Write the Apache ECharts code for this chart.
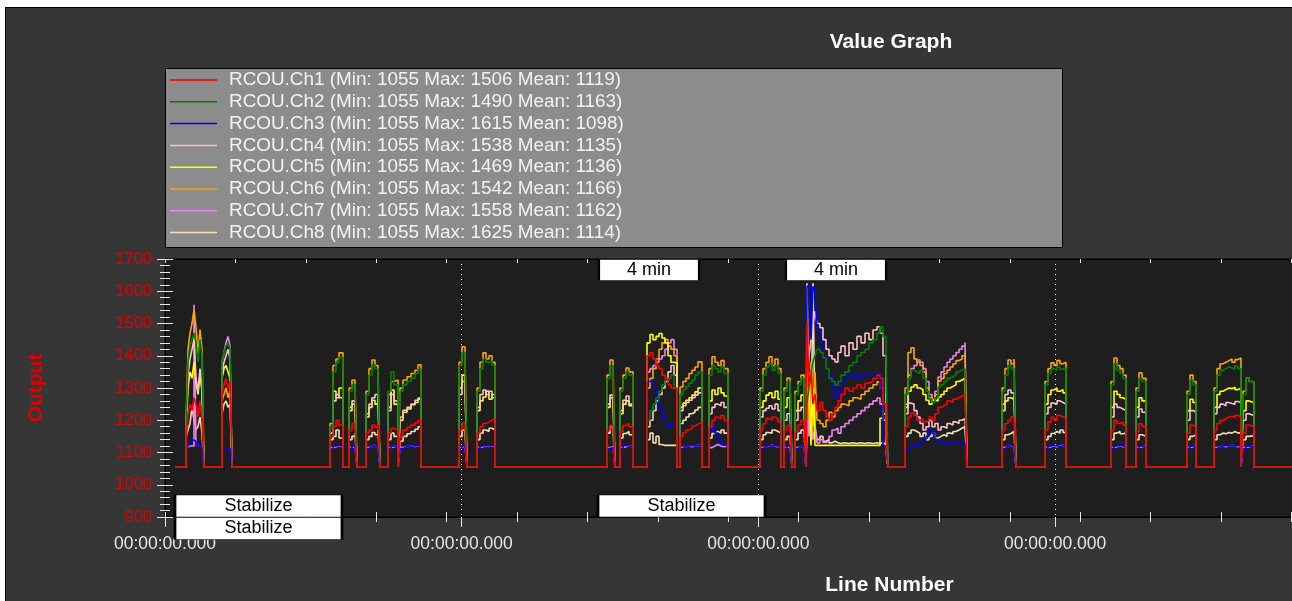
<!DOCTYPE html>
<html><head><meta charset="utf-8">
<script src="https://cdn.jsdelivr.net/npm/echarts@6/dist/echarts.min.js"></script>
<style>
html,body{margin:0;padding:0;background:#fff;width:1292px;height:601px;overflow:hidden}
#c{position:absolute;left:5px;top:7px;width:1287px;height:594px;border-left:1px solid #000;border-top:1px solid #000;box-sizing:border-box}
</style></head><body><div id="c"></div>
<script>
// ---------------- DATA ----------------
const seriesNames = ['RCOU.Ch1','RCOU.Ch2','RCOU.Ch3','RCOU.Ch4','RCOU.Ch5','RCOU.Ch6','RCOU.Ch7','RCOU.Ch8'];
const statMin  = [1055,1055,1055,1055,1055,1055,1055,1055];
const statMax  = [1506,1490,1615,1538,1469,1542,1558,1625];
const statMean = [1119,1163,1098,1135,1136,1166,1162,1114];
const timeTickLabels = ['00:00:00.000','00:00:00.000','00:00:00.000','00:00:00.000','00:00:00.000'];
const annotLineNo = [100, 100, 4330, 4340, 6210];
const annotText = ['Stabilize','Stabilize','Stabilize','4 min','4 min'];

const lineNo = [100,
 210,230,250,270,290,310,330,350,370,390,
 570,590,610,630,650,670,
 1650,1680,1710,1740,1780,
 1840,1870,1900,1920,
 2010,2040,2070,2100,2130,2150,
 2230,2260,2290,2330,
 2350,2380,2420,2460,2500,2530,2560,
 2940,2970,3000,3020,
 3120,3150,3180,3210,3240,3270,3300,
 4420,4450,4480,4500,
 4550,4580,4610,4640,4680,
 4820,4850,4880,4910,4940,4970,5000,5030,5060,5090,5120,
 5150,5180,5210,5240,5270,5300,5330,5370,
 5440,5470,5500,5530,5560,5590,5630,
 5950,5980,6010,6040,6070,6100,6130,6160,
 6190,6220,6250,6270,
 6300,6330,6360,6390,6410,
 6420,6440,6460,6480,6500,6520,6550,6580,6610,6640,6670,6700,6730,6760,6800,6840,6880,6920,6960,7000,7040,7080,7120,7150,7180,7210,7230,
 7400,7430,7460,7490,7520,7550,7580,7610,7640,7670,7700,7730,7760,7790,7820,7850,7880,7910,7940,7970,8000,8020,
 8370,8400,8430,8460,8490,8510,
 8800,8830,8860,8890,8920,8950,8980,9010,
 9460,9490,9520,9550,9580,9610,
 9710,9740,9770,9810,
 10220,10250,10280,10310,
 10490,10520,10550,10580,10610,10640,10670,10700,10730,10760,
 10780,10810,10840,10890,
 11868];

const ch1 = [1055,
 1140,1220,1250,1230,1270,1250,1210,1260,1200,1055,
 1280,1310,1330,1300,1320,1055,
 1150,1180,1200,1185,1055,
 1170,1190,1180,1055,
 1160,1170,1185,1178,1190,1055,
 1160,1175,1169,1055,
 1150,1169,1178,1185,1192,1200,1055,
 1170,1190,1178,1055,
 1160,1180,1190,1195,1200,1205,1055,
 1170,1184,1180,1055,
 1165,1184,1190,1180,1055,
 1400,1409,1390,1370,1360,1340,1330,1310,1300,1295,1055,
 1150,1162,1170,1175,1182,1188,1194,1055,
 1180,1200,1210,1205,1215,1200,1055,
 1170,1190,1206,1200,1210,1205,1195,1055,
 1170,1184,1180,1055,
 1165,1185,1200,1195,1055,
 1506,1300,1350,1250,1280,1230,1256,1230,1210,1200,1220,1240,1260,1280,1300,1290,1300,1310,1300,1315,1320,1330,1340,1330,1250,1150,1055,
 1180,1210,1222,1215,1200,1205,1195,1200,1210,1200,1220,1240,1245,1250,1260,1255,1265,1270,1275,1280,1284,1055,
 1170,1190,1200,1210,1205,1055,
 1170,1195,1209,1200,1215,1210,1205,1055,
 1170,1200,1190,1195,1185,1055,
 1165,1190,1180,1055,
 1160,1185,1180,1055,
 1170,1190,1200,1205,1210,1212,1208,1215,1210,1055,
 1160,1185,1180,1055,
 1055];

const ch2 = [1055,
 1180,1380,1430,1450,1470,1440,1380,1450,1400,1055,
 1380,1410,1430,1440,1420,1055,
 1180,1350,1380,1395,1055,
 1290,1310,1300,1055,
 1280,1340,1372,1360,1340,1055,
 1290,1350,1310,1055,
 1290,1310,1320,1330,1345,1358,1055,
 1370,1410,1390,1055,
 1290,1360,1390,1380,1385,1370,1055,
 1330,1370,1360,1055,
 1290,1330,1350,1340,1055,
 1200,1230,1250,1270,1290,1310,1325,1330,1340,1300,1055,
 1280,1295,1305,1315,1325,1340,1350,1055,
 1340,1370,1360,1350,1365,1345,1055,
 1290,1340,1365,1375,1355,1370,1345,1055,
 1290,1320,1310,1055,
 1280,1310,1330,1320,1055,
 1250,1300,1350,1380,1400,1420,1410,1394,1360,1330,1320,1309,1320,1340,1350,1370,1380,1400,1410,1420,1440,1450,1470,1490,1460,1380,1055,
 1280,1330,1356,1350,1345,1355,1330,1290,1265,1255,1270,1303,1310,1320,1330,1335,1340,1350,1355,1360,1366,1055,
 1290,1340,1370,1360,1365,1055,
 1310,1345,1360,1355,1365,1358,1362,1055,
 1310,1375,1355,1345,1330,1055,
 1290,1330,1320,1055,
 1280,1325,1310,1055,
 1290,1340,1355,1360,1365,1362,1360,1368,1360,1055,
 1280,1330,1320,1055,
 1055];

const ch3 = [1055,
 1110,1120,1130,1140,1135,1125,1120,1130,1115,1055,
 1110,1115,1115,1112,1115,1055,
 1110,1120,1122,1120,1055,
 1112,1120,1118,1055,
 1112,1118,1120,1119,1118,1055,
 1112,1120,1118,1055,
 1112,1118,1120,1120,1122,1120,1055,
 1112,1120,1119,1055,
 1112,1120,1122,1120,1122,1120,1055,
 1112,1115,1118,1055,
 1112,1122,1120,1118,1055,
 1320,1325,1300,1270,1240,1210,1190,1178,1185,1180,1055,
 1112,1118,1120,1122,1120,1122,1120,1055,
 1170,1190,1160,1140,1125,1120,1055,
 1112,1118,1122,1120,1122,1120,1118,1055,
 1112,1122,1120,1055,
 1112,1118,1120,1122,1055,
 1615,1615,1450,1615,1600,1480,1444,1400,1360,1340,1300,1269,1290,1320,1340,1335,1345,1330,1340,1335,1345,1340,1344,1300,1120,1110,1055,
 1110,1116,1120,1118,1125,1130,1140,1150,1169,1160,1140,1128,1130,1125,1130,1128,1132,1128,1130,1128,1130,1055,
 1112,1118,1120,1122,1120,1055,
 1112,1120,1122,1120,1118,1122,1120,1055,
 1112,1120,1122,1120,1118,1055,
 1112,1120,1118,1055,
 1112,1120,1118,1055,
 1112,1118,1120,1122,1120,1122,1120,1122,1120,1055,
 1112,1120,1118,1055,
 1055];

const ch4 = [1055,
 1170,1340,1390,1420,1450,1330,1290,1360,1300,1055,
 1340,1380,1400,1420,1390,1055,
 1160,1260,1280,1270,1055,
 1240,1260,1250,1055,
 1220,1250,1270,1280,1260,1055,
 1230,1280,1260,1055,
 1210,1231,1240,1250,1262,1269,1055,
 1280,1320,1300,1055,
 1240,1280,1294,1280,1290,1270,1055,
 1250,1278,1270,1055,
 1230,1262,1275,1250,1055,
 1180,1200,1230,1260,1280,1300,1320,1350,1370,1340,1055,
 1230,1245,1255,1262,1270,1278,1285,1055,
 1220,1240,1250,1245,1255,1240,1055,
 1210,1230,1237,1245,1235,1250,1230,1055,
 1200,1220,1215,1055,
 1200,1230,1240,1235,1055,
 1300,1400,1450,1500,1538,1500,1487,1450,1420,1400,1390,1381,1410,1430,1400,1440,1420,1460,1440,1470,1450,1480,1490,1470,1400,1250,1055,
 1220,1253,1250,1230,1210,1190,1170,1180,1200,1180,1190,1170,1180,1175,1190,1185,1195,1190,1200,1205,1210,1055,
 1250,1280,1294,1285,1290,1055,
 1220,1240,1253,1250,1260,1255,1250,1055,
 1210,1250,1240,1235,1230,1055,
 1210,1235,1225,1055,
 1200,1230,1225,1055,
 1220,1240,1250,1245,1255,1252,1250,1258,1255,1055,
 1200,1220,1215,1055,
 1055];

const ch5 = [1055,
 1160,1300,1350,1330,1380,1320,1280,1340,1290,1055,
 1330,1360,1370,1350,1330,1055,
 1160,1290,1270,1300,1055,
 1230,1250,1240,1055,
 1210,1240,1262,1250,1270,1055,
 1240,1294,1250,1055,
 1200,1225,1235,1248,1255,1265,1055,
 1300,1340,1320,1055,
 1230,1260,1272,1290,1265,1280,1055,
 1240,1270,1260,1055,
 1220,1250,1260,1245,1055,
 1440,1466,1450,1460,1469,1455,1440,1400,1380,1378,1055,
 1240,1253,1262,1270,1278,1288,1300,1055,
 1260,1294,1280,1300,1285,1275,1055,
 1240,1260,1278,1285,1270,1290,1265,1055,
 1240,1270,1260,1055,
 1230,1260,1278,1270,1055,
 1200,1350,1122,1300,1122,1122,1122,1122,1122,1122,1122,1122,1122,1122,1122,1122,1122,1122,1122,1122,1122,1122,1122,1206,1220,1122,1055,
 1240,1290,1303,1310,1300,1295,1280,1262,1250,1262,1260,1272,1280,1290,1300,1305,1310,1320,1325,1330,1334,1055,
 1230,1260,1270,1265,1275,1055,
 1250,1280,1294,1300,1290,1295,1285,1055,
 1240,1290,1280,1270,1265,1055,
 1240,1270,1260,1055,
 1230,1265,1255,1055,
 1240,1280,1290,1295,1300,1298,1302,1295,1300,1055,
 1230,1260,1255,1055,
 1055];

const ch6 = [1055,
 1190,1420,1470,1500,1542,1490,1400,1481,1420,1055,
 1260,1280,1300,1270,1290,1055,
 1190,1370,1390,1409,1055,
 1300,1325,1310,1055,
 1290,1360,1387,1370,1350,1055,
 1280,1320,1325,1055,
 1300,1325,1335,1345,1355,1372,1055,
 1380,1428,1400,1055,
 1300,1380,1409,1390,1400,1380,1055,
 1340,1387,1370,1055,
 1300,1340,1362,1350,1055,
 1300,1330,1360,1390,1420,1440,1450,1430,1420,1400,1055,
 1303,1320,1330,1345,1355,1365,1381,1055,
 1360,1397,1380,1370,1385,1360,1055,
 1300,1360,1380,1397,1370,1390,1360,1055,
 1300,1331,1320,1055,
 1290,1320,1340,1330,1055,
 1400,1200,1380,1180,1350,1200,1190,1180,1200,1225,1210,1230,1240,1250,1245,1260,1270,1265,1280,1290,1300,1310,1319,1300,1200,1100,1055,
 1300,1410,1425,1390,1380,1370,1350,1300,1270,1262,1280,1322,1330,1345,1355,1365,1375,1385,1390,1400,1409,1055,
 1300,1360,1387,1375,1390,1055,
 1320,1360,1378,1370,1385,1375,1380,1055,
 1320,1393,1370,1360,1340,1055,
 1300,1347,1330,1055,
 1290,1340,1320,1055,
 1300,1360,1375,1380,1385,1390,1380,1388,1393,1055,
 1290,1331,1320,1055,
 1055];

const ch7 = [1055,
 1115,1120,1125,1120,1558,1125,1120,1125,1120,1055,
 1380,1410,1440,1460,1430,1055,
 1115,1118,1120,1118,1055,
 1115,1118,1120,1055,
 1115,1118,1120,1118,1116,1055,
 1115,1118,1120,1055,
 1115,1118,1120,1119,1121,1120,1055,
 1115,1120,1118,1055,
 1115,1118,1120,1119,1120,1118,1055,
 1115,1118,1120,1055,
 1115,1118,1120,1118,1055,
 1350,1360,1370,1380,1390,1400,1420,1440,1450,1420,1055,
 1115,1118,1120,1118,1120,1122,1120,1055,
 1115,1120,1125,1120,1118,1120,1055,
 1115,1118,1120,1122,1120,1118,1120,1055,
 1115,1118,1120,1055,
 1115,1118,1120,1118,1055,
 1300,1150,1200,1140,1180,1130,1140,1131,1135,1150,1170,1175,1160,1180,1190,1200,1210,1220,1230,1240,1250,1260,1269,1250,1200,1120,1055,
 1250,1340,1360,1370,1387,1380,1360,1320,1280,1262,1290,1334,1350,1365,1380,1390,1400,1410,1420,1430,1441,1055,
 1115,1118,1120,1118,1120,1055,
 1115,1118,1120,1118,1120,1122,1120,1055,
 1115,1118,1120,1118,1120,1055,
 1115,1118,1120,1055,
 1115,1118,1120,1055,
 1115,1118,1120,1118,1120,1122,1120,1118,1120,1055,
 1115,1118,1120,1055,
 1055];

const ch8 = [1055,
 1150,1170,1190,1240,1200,1170,1180,1210,1160,1055,
 1220,1250,1260,1240,1250,1055,
 1140,1150,1170,1145,1055,
 1140,1150,1160,1055,
 1140,1150,1162,1155,1170,1055,
 1140,1160,1150,1055,
 1135,1150,1158,1165,1172,1180,1055,
 1150,1170,1160,1055,
 1140,1160,1170,1165,1175,1170,1055,
 1160,1180,1170,1055,
 1145,1159,1165,1155,1055,
 1140,1160,1130,1150,1125,1122,1122,1122,1122,1122,1055,
 1190,1200,1210,1220,1225,1232,1240,1055,
 1145,1159,1165,1160,1170,1160,1055,
 1140,1155,1162,1160,1170,1165,1160,1055,
 1140,1150,1155,1055,
 1140,1160,1170,1165,1055,
 1625,1200,1150,1625,1180,1140,1150,1135,1140,1130,1135,1130,1128,1130,1128,1130,1128,1130,1128,1130,1128,1130,1128,1130,1125,1120,1055,
 1150,1160,1170,1165,1159,1150,1160,1140,1150,1160,1145,1150,1155,1150,1160,1158,1165,1170,1175,1180,1185,1055,
 1140,1155,1159,1165,1160,1055,
 1140,1150,1159,1165,1160,1170,1162,1055,
 1140,1160,1165,1158,1160,1055,
 1140,1155,1150,1055,
 1140,1150,1155,1055,
 1140,1155,1160,1158,1162,1160,1165,1160,1162,1055,
 1140,1150,1152,1055,
 1055];

// ---------------- CHART ----------------
const channels = [ch1, ch2, ch3, ch4, ch5, ch6, ch7, ch8];
channels.forEach((c, i) => {
  if (c.length !== lineNo.length) throw new Error('length mismatch ch' + (i + 1) + ': ' + c.length + ' vs ' + lineNo.length);
});

const colors = ['#ff0000','#008000','#0000ff','#ffc0cb','#ffff00','#ffa500','#ee82ee','#f5deb3'];
const FONT = "'Liberation Sans', Arial, sans-serif";
const OX = 6, OY = 8;           // container offset inside the page
const CW = 1286;                // container width
const X_MIN = 0, X_MAX = 11868; // line-number extent of the axis
const LINE_TICK = 704, TIME_TICK = 2967;
const tickColor = '#e6e6e6';
const gridLeft = 165 - OX;
const gridWidth = (X_MAX - X_MIN) / 10;

const placement = {
  'bottom': { y: 900, size: [167, 22], offset: [83.5, -11] },
  'below':  { y: 900, size: [167, 22], offset: [83.5, 11.5] },
  'top':    { y: 1700, size: [100, 21], offset: [50, 11] }
};
const annotPlace = ['bottom', 'below', 'bottom', 'top', 'top'];

const chart = echarts.init(document.getElementById('c'), null, { renderer: 'canvas' });

const series = channels.map((vals, i) => ({
  name: seriesNames[i],
  type: 'line',
  step: 'end',
  symbol: 'none',
  showSymbol: false,
  silent: true,
  animation: false,
  z: 12 - i,
  xAxisIndex: 0,
  yAxisIndex: 0,
  lineStyle: { color: colors[i], width: 1.6 },
  itemStyle: { color: colors[i] },
  data: lineNo.map((x, j) => [x, vals[j]])
}));

series.push({
  name: 'annotations',
  type: 'line',
  data: [],
  z: 30,
  silent: true,
  animation: false,
  markPoint: {
    symbol: 'rect',
    animation: false,
    silent: true,
    itemStyle: { color: '#ffffff', borderColor: '#000000', borderWidth: 1 },
    label: { show: true, color: '#000', fontSize: 18, fontFamily: FONT, formatter: '{b}' },
    data: annotLineNo.map((x, i) => {
      const p = placement[annotPlace[i]];
      return { name: annotText[i], coord: [x, p.y], symbolSize: p.size, symbolOffset: p.offset };
    })
  }
});

const baseX = { type: 'value', min: X_MIN, max: X_MAX, gridIndex: 0, splitLine: { show: false }, axisLabel: { show: false } };

const option = {
  backgroundColor: '#363636',
  animation: false,
  textStyle: { fontFamily: FONT },
  title: {
    text: 'Value Graph', left: 886 - OX, top: 27 - OY, textAlign: 'center',
    textStyle: { color: '#ffffff', fontSize: 21, fontWeight: 'bold', fontFamily: FONT }
  },
  graphic: [{
    type: 'rect', left: 165 - OX, top: 68 - OY, z: 0,
    shape: { width: 897, height: 179 },
    style: { fill: '#8c8c8c', stroke: '#000', lineWidth: 1 }
  }],
  legend: {
    data: seriesNames,
    orient: 'vertical',
    left: 170 - OX, top: 70 - OY,
    padding: 0, itemWidth: 47, itemHeight: 1.5, itemGap: 1.8,
    icon: 'rect', selectedMode: false, z: 5,
    textStyle: { color: '#f2f2f2', fontSize: 18.9, fontFamily: FONT, lineHeight: 20, padding: [0, 0, 0, 7] },
    formatter: name => {
      const i = seriesNames.indexOf(name);
      return name + ' (Min: ' + statMin[i] + ' Max: ' + statMax[i] + ' Mean: ' + statMean[i] + ')';
    }
  },
  grid: {
    left: gridLeft, top: 259 - OY, right: CW - gridLeft - gridWidth, height: 258,
    outerBoundsMode: 'none', containLabel: false,
    show: true, backgroundColor: '#1e1e1e', borderColor: '#000', borderWidth: 1
  },
  xAxis: [
    Object.assign({}, baseX, { position: 'bottom', interval: LINE_TICK,
      axisLine: { show: true, lineStyle: { color: '#000' } },
      axisTick: { show: true, inside: false, length: 5, lineStyle: { color: tickColor } } }),
    Object.assign({}, baseX, { position: 'bottom', interval: LINE_TICK,
      axisLine: { show: false },
      axisTick: { show: true, inside: true, length: 5, lineStyle: { color: tickColor } } }),
    Object.assign({}, baseX, { position: 'top', interval: LINE_TICK,
      axisLine: { show: true, lineStyle: { color: '#000' } },
      axisTick: { show: true, inside: true, length: 4, lineStyle: { color: tickColor } } }),
    {
      type: 'value', min: X_MIN, max: X_MAX, interval: TIME_TICK, gridIndex: 0, position: 'bottom',
      name: 'Line Number', nameLocation: 'middle', nameGap: 58,
      nameTextStyle: { color: '#ffffff', fontSize: 21, fontWeight: 'bold', fontFamily: FONT, padding: [0, 0, 0, 262] },
      axisLine: { show: false },
      axisTick: { show: true, inside: false, length: 10, lineStyle: { color: tickColor } },
      axisLabel: { show: true, color: '#e6e6e6', fontSize: 17.5, fontFamily: FONT, margin: 18,
        showMinLabel: true, showMaxLabel: true, hideOverlap: false,
        formatter: (v, i) => timeTickLabels[i] !== undefined ? timeTickLabels[i] : timeTickLabels[0] },
      splitLine: { show: true, lineStyle: { color: '#ffffff', width: 1, type: [1, 4] } }
    }
  ],
  yAxis: [
    {
      type: 'value', min: 900, max: 1700, interval: 100, position: 'left', gridIndex: 0,
      name: 'Output', nameLocation: 'middle', nameGap: 118,
      nameTextStyle: { color: '#e00000', fontSize: 21, fontWeight: 'bold', fontFamily: FONT },
      axisLine: { show: true, lineStyle: { color: '#000' } },
      axisTick: { show: true, inside: false, length: 8, lineStyle: { color: tickColor } },
      minorTick: { show: true, splitNumber: 5, length: 5, lineStyle: { color: tickColor } },
      axisLabel: { color: '#e00000', fontSize: 16.5, fontFamily: FONT, margin: 13, formatter: v => String(v) },
      splitLine: { show: false }
    },
    {
      type: 'value', min: 900, max: 1700, interval: 100, position: 'left', gridIndex: 0,
      axisLine: { show: false },
      axisTick: { show: true, inside: true, length: 8, lineStyle: { color: tickColor } },
      minorTick: { show: true, splitNumber: 5, length: 5, lineStyle: { color: tickColor } },
      axisLabel: { show: false },
      splitLine: { show: false }
    }
  ],
  series: series
};

chart.setOption(option);
</script></body></html>
